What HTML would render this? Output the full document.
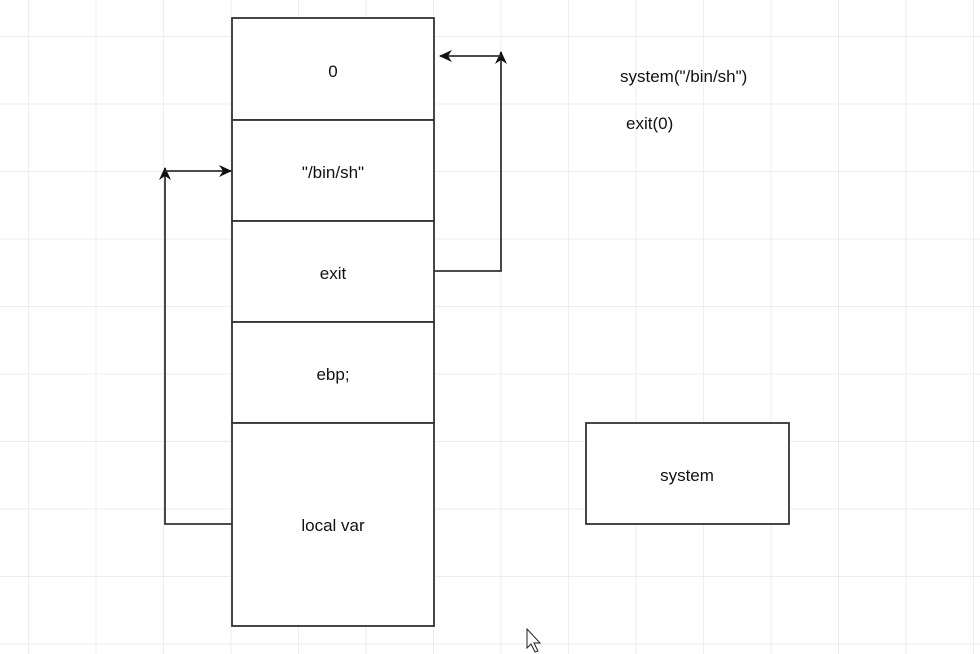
<!DOCTYPE html>
<html><head><style>
body{margin:0;width:980px;height:654px;overflow:hidden;background:#fff;
background-image:linear-gradient(to right,#ededed 1px,transparent 1px),linear-gradient(to bottom,#ededed 1px,transparent 1px);
background-size:67.5px 67.5px;background-position:28px 36px;font-family:"Liberation Sans",sans-serif}
</style></head><body>
<svg width="980" height="654" style="position:absolute;left:0;top:0" font-family="Liberation Sans, sans-serif" font-size="17" fill="#111">
<defs><marker id="a" markerWidth="14" markerHeight="14" refX="12" refY="6" orient="auto" markerUnits="userSpaceOnUse"><path d="M0,0 L13,6 L0,12 L4,6z" fill="#111"/></marker></defs>
<g fill="#fff" stroke="#333" stroke-width="1.8">
<rect x="232" y="18" width="202" height="102"/>
<rect x="232" y="120" width="202" height="101"/>
<rect x="232" y="221" width="202" height="101"/>
<rect x="232" y="322" width="202" height="101"/>
<rect x="232" y="423" width="202" height="203"/>
<rect x="586" y="423" width="203" height="101"/>
</g>
<g fill="none" stroke="#333" stroke-width="1.8">
<polyline points="232,524 165,524 165,168" marker-end="url(#a)"/>
<line x1="165" y1="171" x2="231" y2="171" marker-end="url(#a)"/>
<polyline points="434,271 501,271 501,52" marker-end="url(#a)"/>
<line x1="501" y1="56" x2="440" y2="56" marker-end="url(#a)"/>
</g>
<g text-anchor="middle">
<text x="333" y="77">0</text>
<text x="333" y="178">"/bin/sh"</text>
<text x="333" y="279">exit</text>
<text x="333" y="380">ebp;</text>
<text x="333" y="531">local var</text>
<text x="687" y="481">system</text>
</g>
<text x="620" y="82">system("/bin/sh")</text>
<text x="626" y="129">exit(0)</text>
<path d="M527,629 L527,648 L531,644 L535,652 L538,651 L534,643 L540,643 Z" fill="#fff" stroke="#222" stroke-width="1"/>
</svg>
</body></html>
